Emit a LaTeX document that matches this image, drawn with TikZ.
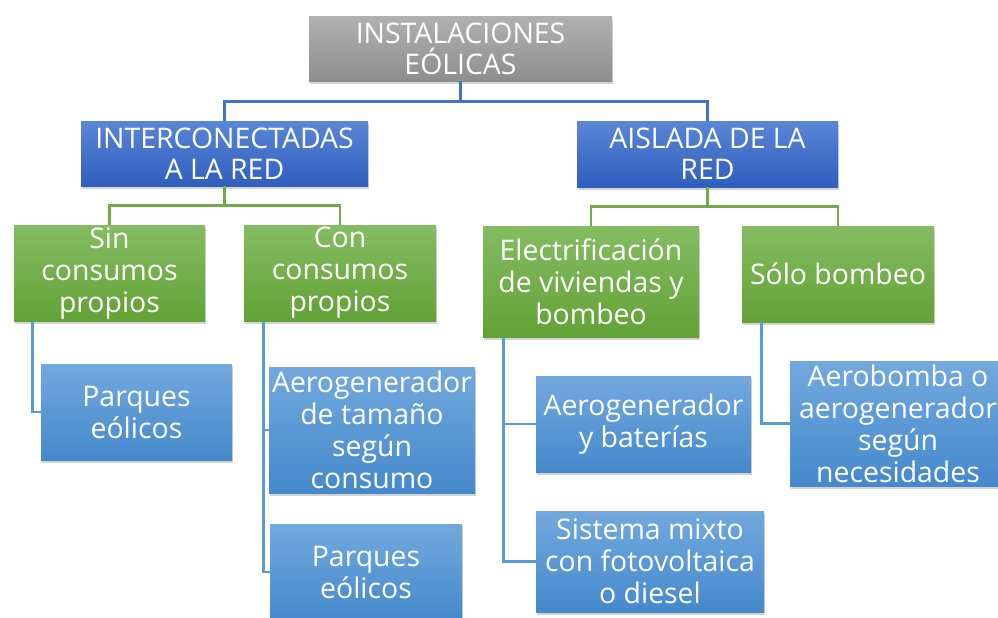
\documentclass[tikz,border=0pt]{standalone}
\usepackage{fontspec}
\setmainfont{Open Sans}
\usetikzlibrary{shadows}

\definecolor{rootTop}{HTML}{B0B0B0}
\definecolor{rootBot}{HTML}{8E8E8E}
\definecolor{midTop}{HTML}{5A86D6}
\definecolor{midBot}{HTML}{2F5EBE}
\definecolor{grnTop}{HTML}{85BC62}
\definecolor{grnBot}{HTML}{62A236}
\definecolor{leafTop}{HTML}{72A9DD}
\definecolor{leafBot}{HTML}{4589CC}
\definecolor{lnBlue}{HTML}{4472C4}
\definecolor{lnGreen}{HTML}{70AD47}
\definecolor{lnLeaf}{HTML}{5B9BD5}

\begin{document}
\begin{tikzpicture}[%
    x=0.75pt,
    y=-0.75pt,
    wh/.style 2 args={
      minimum width=#1*0.75pt,
      minimum height=#2*0.75pt
    },
    box/.style={
      rectangle,
      text=white,
      align=center,
      inner sep=0pt,
      font=\fontsize{21.3}{24}\selectfont,
      drop shadow={shadow xshift=1pt,shadow yshift=-2.5pt,opacity=0.35}
    },
    rootbox/.style={box,top color=rootTop,bottom color=rootBot},
    midbox/.style={box,top color=midTop,bottom color=midBot},
    grnbox/.style={box,top color=grnTop,bottom color=grnBot},
    leafbox/.style={box,top color=leafTop,bottom color=leafBot},
    line/.style={draw,line width=2.2pt}
  ]
    \useasboundingbox (0,0) rectangle (998,617);
    \clip (0,0) rectangle (998,617);

    % level 0 and 1
    \node[rootbox,wh={303}{64},font=\fontsize{21.3}{23.3}\selectfont] (root) at (460.5,49) {INSTALACIONES\\EÓLICAS};
    \node[midbox,wh={287}{65},font=\fontsize{21.3}{23.3}\selectfont] (inter) at (224.5,153.5) {INTERCONECTADAS\\A LA RED};
    \node[midbox,wh={261}{66},font=\fontsize{21.3}{23.3}\selectfont] (aisl) at (707.5,154) {AISLADA DE LA\\RED};

    % level 2
    \node[grnbox,wh={191}{96}] (sin) at (109.5,273) {Sin\\consumos\\propios};
    \node[grnbox,wh={192}{96}] (con) at (340,273) {Con\\consumos\\propios};
    \node[grnbox,wh={216}{111}] (elec) at (591,281.5) {Electrificación\\de viviendas y\\bombeo};
    \node[grnbox,wh={192}{96}] (solo) at (838,274) {Sólo bombeo};

    % level 3
    \node[leafbox,wh={191}{96}] (parq1) at (136.5,412) {Parques\\eólicos};
    \node[leafbox,wh={206}{126}] (aero1) at (372,430) {Aerogenerador\\de tamaño\\según\\consumo};
    \node[leafbox,wh={192}{96}] (parq2) at (366,572) {Parques\\eólicos};
    \node[leafbox,wh={215}{96}] (aero2) at (643.5,424) {Aerogenerador\\y baterías};
    \node[leafbox,wh={228}{101}] (mixto) at (650,561.5) {Sistema mixto\\con fotovoltaica\\o diesel};
    \node[leafbox,wh={216}{125}] (bomba) at (898,423.5) {Aerobomba o\\aerogenerador\\según\\necesidades};

    % connectors
    \draw[line,lnBlue] (root.south) -- ++(0,20) -| (inter.north);
    \draw[line,lnBlue] (root.south) -- ++(0,20) -| (aisl.north);
    \draw[line,lnGreen] (inter.south) -- ++(0,19) -| (sin.north);
    \draw[line,lnGreen] (inter.south) -- ++(0,19) -| (con.north);
    \draw[line,lnGreen] (aisl.south) -- ++(0,19) -| (elec.north);
    \draw[line,lnGreen] (aisl.south) -- ++(0,19) -| (solo.north);
    \draw[line,lnLeaf] (sin.south west) ++(19,0) |- (parq1.west);
    \draw[line,lnLeaf] (con.south west) ++(20,0) |- (aero1.west);
    \draw[line,lnLeaf] (con.south west) ++(20,0) |- (parq2.west);
    \draw[line,lnLeaf] (elec.south west) ++(21,0) |- (aero2.west);
    \draw[line,lnLeaf] (elec.south west) ++(21,0) |- (mixto.west);
    \draw[line,lnLeaf] (solo.south west) ++(20,0) |- (bomba.west);
  \end{tikzpicture}
\end{document}
